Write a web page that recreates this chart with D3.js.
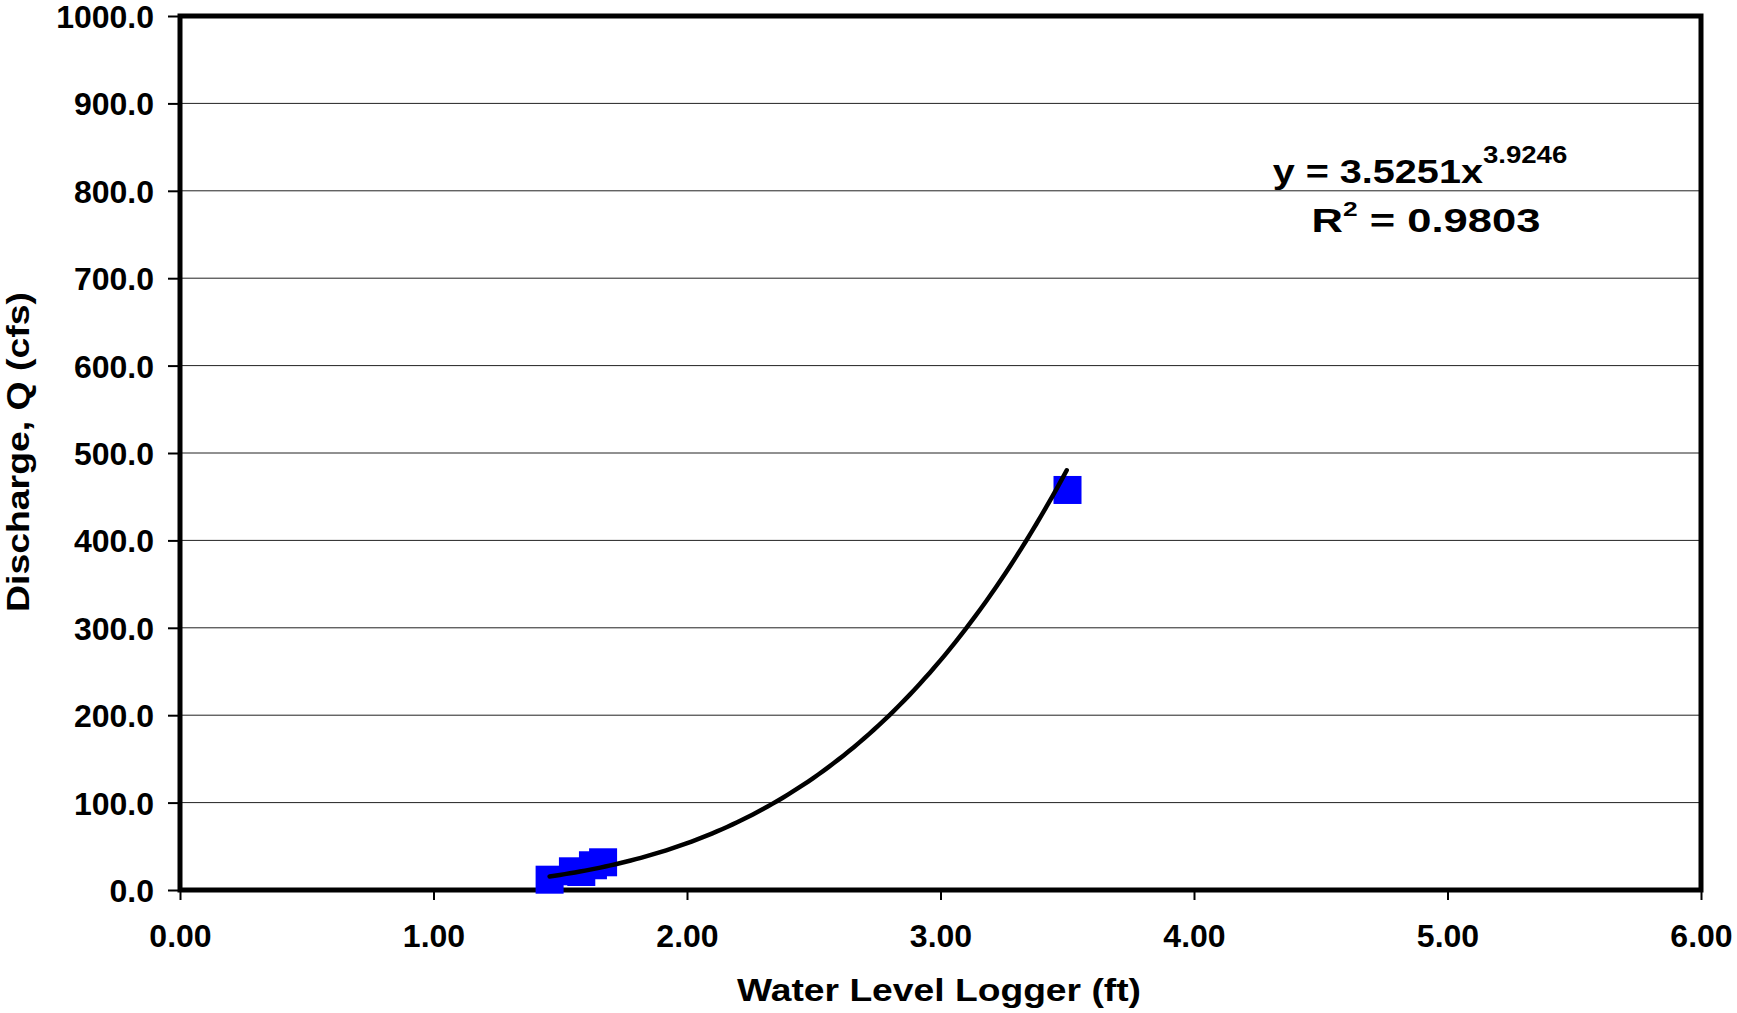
<!DOCTYPE html>
<html>
<head>
<meta charset="utf-8">
<script src="https://cdn.jsdelivr.net/npm/d3@7"></script>
<style>
  body { margin: 0; background: #fff; }
  text { font-family: "Liberation Sans", Arial, sans-serif; font-weight: bold; }
</style>
</head>
<body>
<figure id="rating" style="margin:0"></figure>
<script>
// measured stage / discharge pairs
var loggerFt = [1.458, 1.550, 1.583, 1.629, 1.669, 3.501];
var dischargeCfs = [11.8, 21.4, 20.6, 28.3, 31.7, 457.7];

// power trendline from the chart label
var coefA = 3.5251, coefB = 3.9246, rSquared = 0.9803;

var xTicks = [0, 1, 2, 3, 4, 5, 6];
var yTicks = [0, 100, 200, 300, 400, 500, 600, 700, 800, 900, 1000];

// set the dimensions and margins of the graph
var margin = {top: 16, right: 36, bottom: 123, left: 180},
    width = 1737 - margin.left - margin.right,
    height = 1013 - margin.top - margin.bottom;

var svg = d3.select("figure#rating")
    .append("svg")
    .attr("width", width + margin.left + margin.right)
    .attr("height", height + margin.top + margin.bottom)
    .append("g")
    .attr("transform", "translate(" + margin.left + "," + margin.top + ")");

var x = d3.scaleLinear().domain([0, 6]).range([0, width]);
var y = d3.scaleLinear().domain([0, 1000]).range([height, 0]);

// gridlines
svg.selectAll("line.grid")
    .data(yTicks.slice(1, -1))
    .enter()
    .append("line")
    .attr("class", "grid")
    .attr("x1", 0).attr("x2", width)
    .attr("y1", function(d) { return y(d); })
    .attr("y2", function(d) { return y(d); })
    .attr("stroke", "#222")
    .attr("stroke-width", 1);

// axes
var yAxis = svg.append("g")
    .call(d3.axisLeft(y).tickValues(yTicks).tickSize(12).tickPadding(14)
        .tickFormat(d3.format(".1f")));
var xAxis = svg.append("g")
    .attr("transform", "translate(0," + height + ")")
    .call(d3.axisBottom(x).tickValues(xTicks).tickSize(10).tickPadding(24)
        .tickFormat(d3.format(".2f")));

[xAxis, yAxis].forEach(function(a) {
  a.select(".domain").remove();
  a.selectAll(".tick line").attr("stroke", "#000").attr("stroke-width", 2);
  a.selectAll(".tick text").attr("fill", "#000").style("font-size", "32px");
});
xAxis.selectAll(".tick text").attr("dy", "0.71em");
yAxis.selectAll(".tick text").attr("dy", "0.36em");

// plot frame
svg.append("rect")
    .attr("x", 0).attr("y", 0)
    .attr("width", width).attr("height", height)
    .attr("fill", "none")
    .attr("stroke", "#000")
    .attr("stroke-width", 5);

// data squares
var sq = 28;
svg.selectAll("rect.pt")
    .data(loggerFt)
    .enter()
    .append("rect")
    .attr("class", "pt")
    .attr("x", function(d) { return x(d) - sq / 2; })
    .attr("y", function(d, i) { return y(dischargeCfs[i]) - sq / 2; })
    .attr("width", sq).attr("height", sq)
    .attr("fill", "#0000ff");

// trendline
var xs = d3.range(d3.min(loggerFt), d3.max(loggerFt) + 0.0001, 0.02);
var line = d3.line()
    .x(function(d) { return x(d); })
    .y(function(d) { return y(coefA * Math.pow(d, coefB)); })
    .curve(d3.curveMonotoneX);
svg.append("path")
    .datum(xs)
    .attr("d", line)
    .attr("fill", "none")
    .attr("stroke", "#000")
    .attr("stroke-width", 4.5)
    .attr("stroke-linecap", "round");

// equation label (text in the original is drawn wider than Arial)
var eq = svg.append("text")
    .attr("transform", "translate(1240,167) scale(1.2,1)")
    .attr("text-anchor", "middle")
    .style("font-size", "33px");
eq.append("tspan").text("y = " + coefA + "x");
eq.append("tspan").attr("dy", -20).style("font-size", "23px").text(coefB);

var r2 = svg.append("text")
    .attr("transform", "translate(1246,216) scale(1.32,1)")
    .attr("text-anchor", "middle")
    .style("font-size", "33px");
r2.append("tspan").text("R");
r2.append("tspan").attr("dy", -16).style("font-size", "20px").text("2");
r2.append("tspan").attr("dy", 16).text(" = " + rSquared);

// axis titles
svg.append("text")
    .attr("x", 939 - margin.left).attr("y", height + 111)
    .attr("text-anchor", "middle")
    .attr("textLength", 404)
    .attr("lengthAdjust", "spacingAndGlyphs")
    .style("font-size", "31px")
    .text("Water Level Logger (ft)");

svg.append("text")
    .attr("transform", "translate(" + (-151) + "," + (height / 2 - 1) + ") rotate(-90)")
    .attr("text-anchor", "middle")
    .attr("textLength", 320)
    .attr("lengthAdjust", "spacingAndGlyphs")
    .style("font-size", "31px")
    .text("Discharge, Q (cfs)");
</script>
</body>
</html>
